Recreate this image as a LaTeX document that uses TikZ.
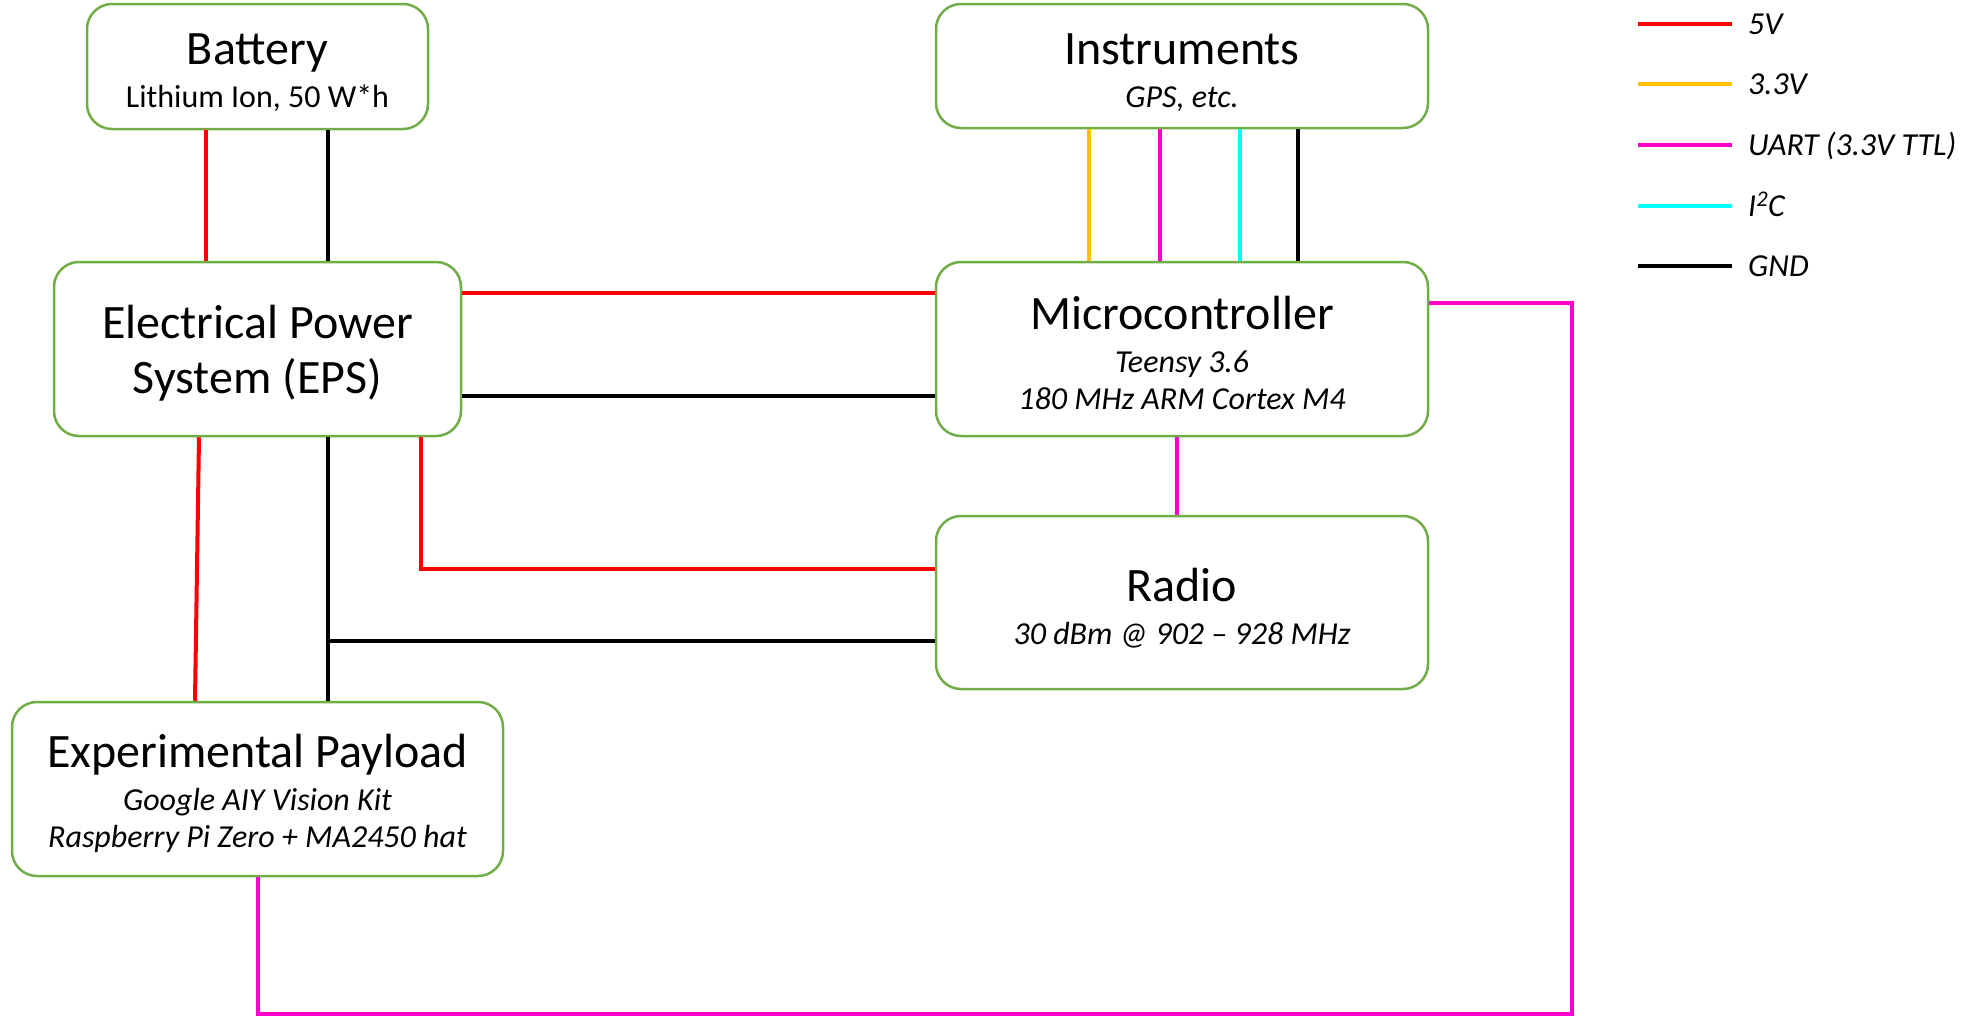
\documentclass[tikz,border=0pt]{standalone}
\usepackage{fontspec}
\setmainfont{Carlito}
\usepackage{xcolor}
\usetikzlibrary{positioning}

\definecolor{boxgreen}{HTML}{70AD47}
\definecolor{pwrred}{HTML}{FF0000}
\definecolor{pwrorange}{HTML}{FFC000}
\definecolor{uartpink}{HTML}{FF00CC}
\definecolor{busblue}{HTML}{00FFFF}
\newcommand{\hd}{\fontsize{48}{55}\selectfont}
\newcommand{\sm}{\fontsize{32}{37}\selectfont}

\begin{document}
\begin{tikzpicture}[x=1pt,y=-1pt,every node/.append style={align=center},
  blk/.style={draw=boxgreen, line width=2.5pt, rounded corners=25pt, inner sep=0pt, font=\sm},
  wire/.style={line width=4pt},
  v5/.style={wire, draw=pwrred}, v33/.style={wire, draw=pwrorange},
  uart/.style={wire, draw=uartpink}, itc/.style={wire, draw=busblue},
  gnd/.style={wire, draw=black},
  key/.style={anchor=base west, font=\sm\itshape, inner sep=0pt}]
    \useasboundingbox (0,0) rectangle (1964,1015);
    \node [blk, minimum width=341pt, minimum height=125pt] (bat) at (257.5,66.5) {{\hd\rule{0pt}{44pt}Battery}\\[6pt]Lithium Ion, 50 W*h};
    \node [blk, minimum width=407pt, minimum height=174pt, below=130.5pt of bat, font=\hd] (eps) {\rule{0pt}{41pt}Electrical Power\\System (EPS)};
    \node [blk, minimum width=491pt, minimum height=174pt, below=263.5pt of eps] (pay) {{\hd\rule{0pt}{42pt}Experimental Payload}\\[6pt]\itshape Google AIY Vision Kit\\\itshape Raspberry Pi Zero + MA2450 hat};
    \node [blk, minimum width=492pt, minimum height=174pt, right=472.5pt of eps] (mcu) {{\hd\rule{0pt}{42pt}Microcontroller}\\[6pt]\itshape Teensy 3.6\\\itshape 180 MHz ARM Cortex M4};
    \node [blk, minimum width=492pt, minimum height=124pt, above=131.5pt of mcu] (inst) {{\hd\rule{0pt}{44pt}Instruments}\\[6pt]\itshape GPS, etc.};
    \node [blk, minimum width=492pt, minimum height=173pt, below=77.5pt of mcu] (radio) {{\hd\rule{0pt}{44pt}Radio}\\[6pt]\itshape 30 dBm @ 902 -- 928 MHz};

    \draw [v5] ([xshift=-51.5pt]bat.south) coordinate (bp) -- (bp |- eps.north);
    \draw [gnd] ([xshift=70.5pt]bat.south) coordinate (bn) -- (bn |- eps.north);
    \draw [v5] ([yshift=56pt]eps.east) coordinate (mp) -- (mp -| mcu.west);
    \draw [gnd] ([yshift=-47pt]eps.east) coordinate (mn) -- (mn -| mcu.west);
    \draw [v5] ([xshift=-58.5pt]eps.south) -- ([xshift=-62.5pt]pay.north);
    \draw [gnd] ([xshift=70.5pt]eps.south) coordinate (pn) -- (pn |- pay.north);
    \draw [gnd] ([yshift=-38.5pt]radio.west) coordinate (rn) -- (rn -| pn);
    \draw [v5] ([xshift=163.5pt]eps.south) |- ([yshift=33.5pt]radio.west);
    \draw [v33] ([xshift=-93pt]inst.south) coordinate (i1) -- (i1 |- mcu.north);
    \draw [uart] ([xshift=-22pt]inst.south) coordinate (i2) -- (i2 |- mcu.north);
    \draw [itc] ([xshift=58pt]inst.south) coordinate (i3) -- (i3 |- mcu.north);
    \draw [gnd] ([xshift=116pt]inst.south) coordinate (i4) -- (i4 |- mcu.north);
    \draw [uart] ([xshift=-5pt]mcu.south) coordinate (mr) -- (mr |- radio.north);
    \coordinate (ubus) at (1572,1014);
    \draw [uart] ([yshift=46pt]mcu.east) -| (ubus) -| (pay.south);

    \node [key] (k5) at (1748,34) {5V};
    \node [key] (k33) at (1748,94) {3.3V};
    \node [key] (kuart) at (1748,155) {UART (3.3V TTL)};
    \node [key] (ki2c) at (1748,216) {I\textsuperscript{2}C};
    \node [key] (kgnd) at (1748,276) {GND};
    \draw [v5] ([shift={(-16pt,10pt)}]k5.base west) -- ++(-94,0);
    \draw [v33] ([shift={(-16pt,10pt)}]k33.base west) -- ++(-94,0);
    \draw [uart] ([shift={(-16pt,10pt)}]kuart.base west) -- ++(-94,0);
    \draw [itc] ([shift={(-16pt,10pt)}]ki2c.base west) -- ++(-94,0);
    \draw [gnd] ([shift={(-16pt,10pt)}]kgnd.base west) -- ++(-94,0);
\end{tikzpicture}
\end{document}
